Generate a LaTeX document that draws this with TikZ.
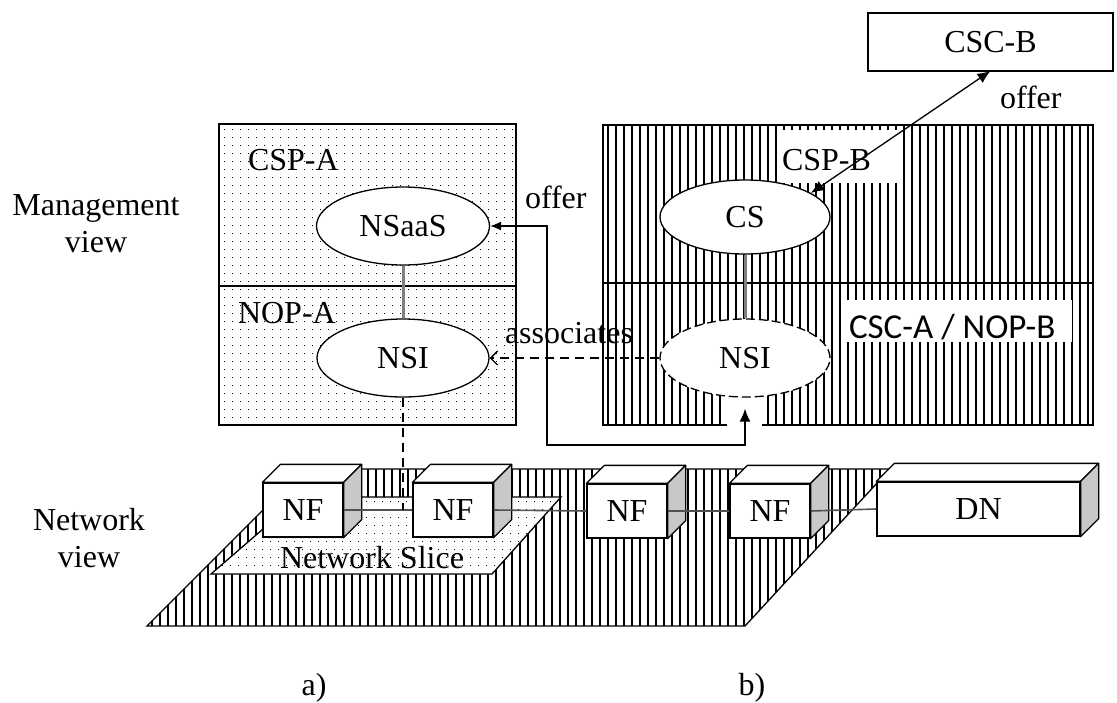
\documentclass[tikz,border=0pt]{standalone}
\usepackage{fontspec}
\setmainfont{Liberation Serif}
\newfontfamily\calibfont{Carlito}
\usetikzlibrary{patterns.meta,arrows.meta,calc,shapes.geometric}
\definecolor{sidegray}{HTML}{C8C8C8}
\definecolor{linkgray}{HTML}{7F7F7F}
\definecolor{nfgray}{HTML}{505050}
\tikzset{
  lbl/.style={font=\fontsize{32}{37}\selectfont, inner sep=0pt, outer sep=0pt},
  lblsans/.style={font=\calibfont\fontsize{35}{38}\selectfont, inner sep=0pt, outer sep=0pt},
  dotmark/.style={fill=black},
  hatchfill/.style={preaction={fill=white}, pattern={Lines[angle=90,distance=8pt,line width=1.4pt]}},
  boxline/.style={draw, line width=1.5pt},
  thinline/.style={line width=1.3pt},
  ell/.style={ellipse, draw, line width=1.3pt, fill=white, inner sep=0pt, font=\fontsize{32}{37}\selectfont},
  graylink/.style={draw=linkgray, line width=3pt},
  conn/.style={draw, line width=1.3pt},
  dashconn/.style={draw, line width=1.3pt, dash pattern=on 9pt off 6pt},
  cubefront/.style={draw, line width=1.3pt, fill=white, minimum height=54pt, inner sep=0pt, font=\fontsize{32}{37}\selectfont},
  cubeface/.style={draw, line width=1.3pt, line join=round},
  nfline/.style={draw=nfgray, line width=1.6pt},
  planeline/.style={draw, line width=1.3pt, line join=miter}
}
\begin{document}
\begin{tikzpicture}[x=1pt,y=-1pt]
\useasboundingbox (0,0) rectangle (1117,702);

% ---------- management view boxes ----------
\node[boxline, fill=white, minimum width=297pt, minimum height=301pt, inner sep=0pt] (boxA) at (367.5,274.5) {};
\foreach \x in {224,232,...,512}{
  \foreach \y in {129,137,...,422}{
    \fill[dotmark] (\x,\y) rectangle ++(1.1,1.1);
  }
}
\draw[thinline] (219,286) -- (516,286);

\node[boxline, hatchfill, minimum width=490pt, minimum height=300pt, inner sep=0pt] (boxB) at (848,275) {};
\fill[white] (780,130) rectangle (902,183);
\fill[white] (847,300) rectangle (1072,342);
\draw[thinline] (603,283) -- (1093,283);
\fill[white] (727,394) rectangle (762,428);

% ---------- ellipses ----------
\node[ell, minimum width=173pt, minimum height=78pt] (NSaaS) at (403,226) {NSaaS};
\node[ell, minimum width=172pt, minimum height=78pt] (NSIa) at (403,358) {NSI};
\node[ell, minimum width=170pt, minimum height=74pt] (CS) at (745,217) {CS};
\node[ell, dash pattern=on 9pt off 4pt, minimum width=170pt, minimum height=78pt] (NSIb) at (745,358) {NSI};

\draw[graylink] (NSaaS.south) -- (NSIa.north);
\draw[graylink] (CS.south) -- (NSIb.north);

% ---------- labels in boxes ----------
\node[lbl, anchor=base west] (cspa) at (248,170) {CSP-A};
\node[lbl, anchor=base west] (nopa) at (238,323) {NOP-A};
\node[lbl, anchor=base west] (cspb) at (782,170) {CSP-B};
\node[lblsans, anchor=base west] (cscnop) at (849,338) {CSC-A / NOP-B};

% ---------- CSC-B ----------
\node[boxline, fill=white, minimum width=245pt, minimum height=58pt, lbl] (CSCB) at (990.5,42) {CSC-B};

% ---------- connectors ----------
\coordinate (offbend) at (547,445);
\coordinate (offend) at ($(NSIb.south)+(0,11)$);
\draw[conn, {Latex[length=11pt,width=9pt]}-{Latex[length=13pt,width=11pt]}] (NSaaS.east) -| (offbend) -| (offend);
\node[lbl, anchor=base west] (offerA) at (525,208) {offer};

\draw[conn, {Latex[length=13pt,width=11pt]}-{Latex[length=13pt,width=11pt]}] (CS.20) -- (CSCB.south);
\node[lbl, anchor=base west] (offerB) at (1000,108) {offer};

\draw[dashconn, -{Straight Barb[length=7pt,width=14pt]}] (NSIb.west) -- (NSIa.east);
\node[lbl, anchor=base west] (assoc) at (505,343) {associates};

% ---------- network view ----------
\path[hatchfill] (147,626) -- (304,469) -- (890,469) -- (745,626) -- cycle;
\draw[planeline] (147,626) -- (304,469) -- (890,469) -- (745,626) -- cycle;
\fill[white] (211,574) -- (300,497) -- (561,497) -- (492,574) -- cycle;
\begin{scope}
  \clip (211,574) -- (300,497) -- (561,497) -- (492,574) -- cycle;
  \foreach \x in {214,222,...,560}{
    \foreach \y in {501,509,...,572}{
      \fill[dotmark] (\x,\y) rectangle ++(1.1,1.1);
    }
  }
\end{scope}
\draw[planeline] (211,574) -- (300,497) -- (561,497) -- (492,574) -- cycle;
\node[lbl, anchor=base west] (slice) at (280,568) {Network Slice};

\node[cubefront, minimum width=80pt] (nf1) at (303,510) {NF};
\node[cubefront, minimum width=80pt] (nf2) at (453,510) {NF};
\node[cubefront, minimum width=80pt] (nf3) at (627,511) {NF};
\node[cubefront, minimum width=80pt] (nf4) at (770,511) {NF};
\node[cubefront, minimum width=203pt] (dn) at (978.5,509) {DN};
\foreach \n in {nf1,nf2,nf3,nf4,dn}{
  \draw[cubeface, fill=white] (\n.north west) -- ++(18,-18) -- ($(\n.north east)+(18,-18)$) -- (\n.north east) -- cycle;
  \draw[cubeface, fill=sidegray] (\n.north east) -- ++(18,-18) -- ($(\n.south east)+(18,-18)$) -- (\n.south east) -- cycle;
}
\draw[nfline] (nf1.east) -- (nf2.west);
\draw[nfline] (nf2.east) -- (nf3.west);
\draw[nfline] (nf3.east) -- (nf4.west);
\draw[nfline] (nf4.east) -- (dn.west);

\draw[dashconn] (NSIa.south) -- (NSIa.south |- nf1.east);

% ---------- side and bottom labels ----------
\node[lbl, align=center] (mview) at (96,224) {Management\\view};
\node[lbl, align=center] (nview) at (89,538) {Network\\view};
\node[lbl] (la) at (314,688) {a)};
\node[lbl] (lb) at (752,688) {b)};
\end{tikzpicture}
\end{document}
